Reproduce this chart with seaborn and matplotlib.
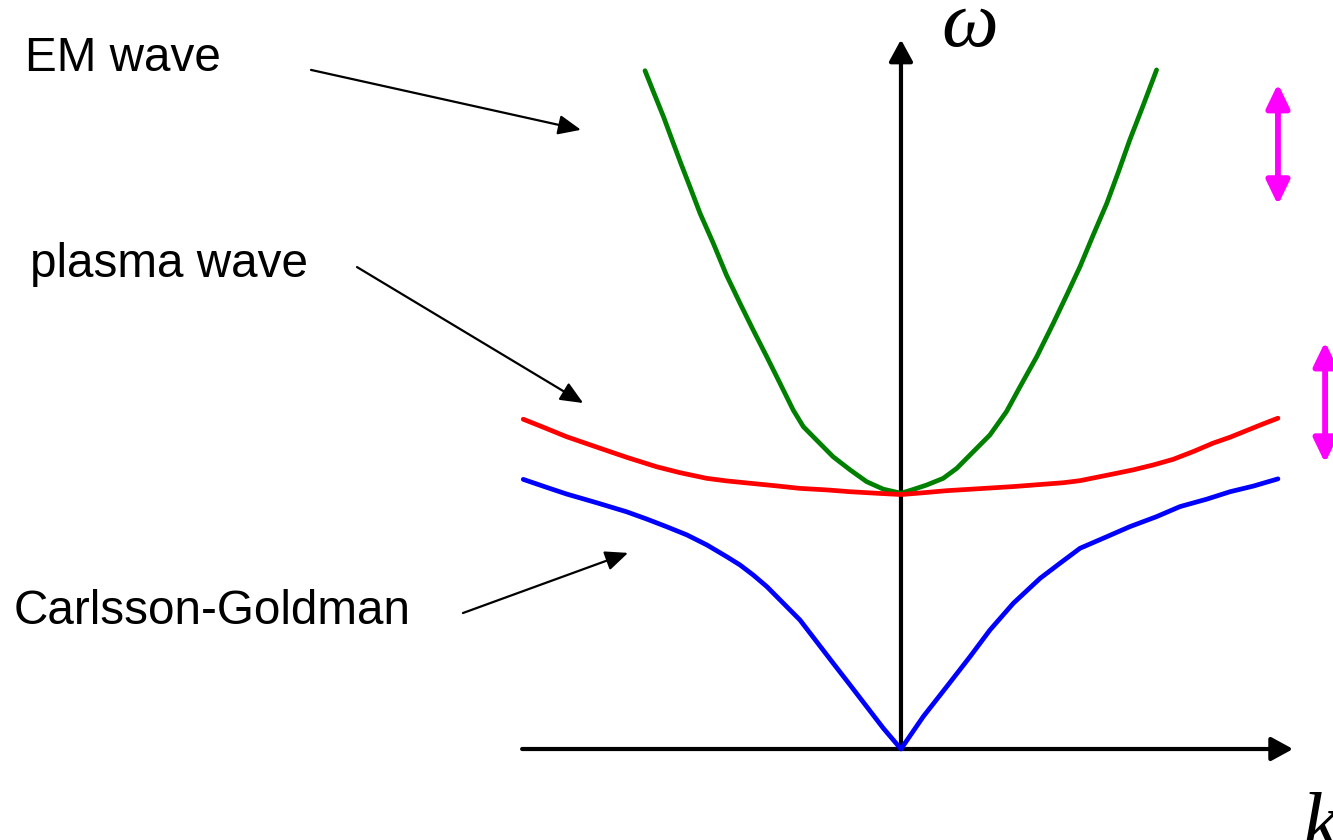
import matplotlib
matplotlib.use("Agg")
import matplotlib.pyplot as plt
import pandas as pd
import seaborn as sns

# Dispersion branches: wavenumber k (normalised) and frequency omega (units of plasma frequency)
em_k = [-0.679, -0.657, -0.630, -0.604, -0.582, -0.560, -0.533, -0.498, -0.463, -0.427,
        -0.392, -0.356, -0.321, -0.286, -0.259, -0.224, -0.180, -0.135, -0.091, -0.047, 0.0,
        0.033, 0.068, 0.112, 0.148, 0.192, 0.236, 0.280, 0.316, 0.360, 0.404, 0.440,
        0.475, 0.510, 0.546, 0.577, 0.607, 0.643, 0.678]
em_w = [2.639, 2.558, 2.460, 2.357, 2.271, 2.188, 2.084, 1.968, 1.844, 1.734,
        1.630, 1.526, 1.423, 1.319, 1.254, 1.202, 1.137, 1.086, 1.040, 1.011, 0.995,
        1.010, 1.027, 1.053, 1.092, 1.157, 1.222, 1.313, 1.410, 1.526, 1.656, 1.767,
        1.877, 2.000, 2.123, 2.246, 2.370, 2.506, 2.642]

plasma_k = [-1.002, -0.949, -0.887, -0.798, -0.728, -0.648, -0.586, -0.515, -0.462, -0.401,
            -0.339, -0.268, -0.197, -0.135, -0.064, 0.0,
            0.059, 0.121, 0.210, 0.298, 0.369, 0.431, 0.475, 0.519, 0.563, 0.616,
            0.669, 0.722, 0.775, 0.828, 0.873, 0.917, 0.961, 1.0]
plasma_w = [1.283, 1.252, 1.215, 1.170, 1.135, 1.098, 1.075, 1.053, 1.043, 1.034,
            1.025, 1.014, 1.008, 1.001, 0.995, 0.990,
            0.997, 1.005, 1.013, 1.021, 1.029, 1.036, 1.044, 1.057, 1.070, 1.086,
            1.105, 1.127, 1.157, 1.190, 1.213, 1.239, 1.265, 1.287]

cg_k = [-1.002, -0.940, -0.887, -0.807, -0.728, -0.675, -0.622, -0.568, -0.515, -0.462,
        -0.427, -0.392, -0.356, -0.312, -0.268, -0.224, -0.180, -0.135, -0.091, -0.047, 0.0,
        0.059, 0.121, 0.183, 0.236, 0.298, 0.369, 0.422, 0.475, 0.546, 0.607, 0.678,
        0.740, 0.811, 0.873, 0.935, 1.0]
cg_w = [1.049, 1.018, 0.992, 0.958, 0.923, 0.895, 0.865, 0.833, 0.794, 0.748,
        0.716, 0.677, 0.632, 0.567, 0.502, 0.418, 0.334, 0.249, 0.165, 0.081, 0.0,
        0.126, 0.242, 0.359, 0.463, 0.567, 0.664, 0.723, 0.781, 0.826, 0.865, 0.904,
        0.943, 0.972, 1.001, 1.023, 1.051]

branch_names = ["EM wave", "plasma wave", "Carlsson-Goldman"]
branch_colors = ["#008000", "#ff0000", "#0000ff"]

df = pd.concat([
    pd.DataFrame({"k": em_k, "omega": em_w, "branch": branch_names[0]}),
    pd.DataFrame({"k": plasma_k, "omega": plasma_w, "branch": branch_names[1]}),
    pd.DataFrame({"k": cg_k, "omega": cg_w, "branch": branch_names[2]}),
], ignore_index=True)

sns.set_theme(style="white")
plt.rcParams["text.color"] = "black"

fig = plt.figure(figsize=(13.33, 8.4), dpi=100)
ax = fig.add_axes([0, 0, 1, 1])
ax.set_xlim(-2.390, 1.146)
ax.set_ylim(-0.354, 2.914)
ax.axis("off")

sns.lineplot(data=df, x="k", y="omega", hue="branch", hue_order=branch_names,
             palette=dict(zip(branch_names, branch_colors)), estimator=None,
             sort=False, units="branch", linewidth=3.4, legend=False, ax=ax, zorder=3)

# Coordinate axes with arrow heads
axis_style = dict(arrowstyle="-|>,head_length=1.1,head_width=0.6", color="black",
                  lw=3.0, shrinkA=0, shrinkB=0)
ax.annotate("", xy=(1.04, 0.0), xytext=(-1.005, 0.0), arrowprops=axis_style, zorder=2)
ax.annotate("", xy=(0.0, 2.76), xytext=(0.0, 0.0), arrowprops=axis_style, zorder=2)

ax.text(0.183, 2.735, "\u03c9", fontsize=58, ha="center", va="baseline",
        family="Liberation Serif", style="italic", color="black")
ax.text(1.066, -0.385, "k", fontsize=58, ha="left", va="baseline",
        family="Liberation Serif", style="italic", color="black")

# Branch labels with pointers
label_font = dict(fontsize=34.3, family="Liberation Sans", color="black", va="baseline", ha="left")
pointer = dict(arrowstyle="-|>,head_length=1.15,head_width=0.5", color="black",
               lw=1.6, shrinkA=0, shrinkB=0)
ax.text(-2.324, 2.638, "EM wave", **label_font)
ax.annotate("", xy=(-0.849, 2.409), xytext=(-1.565, 2.642), arrowprops=pointer)
ax.text(-2.310, 1.837, "plasma wave", **label_font)
ax.annotate("", xy=(-0.843, 1.346), xytext=(-1.443, 1.875), arrowprops=pointer)
ax.text(-2.355, 0.486, "Carlsson-Goldman", **label_font)
ax.annotate("", xy=(-0.724, 0.763), xytext=(-1.162, 0.529), arrowprops=pointer)

# Double-headed markers on the right
span = dict(arrowstyle="<|-|>,head_length=1.2,head_width=0.58", color="#ff00ff",
            lw=4.2, shrinkA=0, shrinkB=0)
ax.annotate("", xy=(1.0, 2.588), xytext=(1.0, 2.117), arrowprops=span)
ax.annotate("", xy=(1.125, 1.584), xytext=(1.125, 1.113), arrowprops=span)

fig.savefig("out.png", dpi=100, facecolor="white")
